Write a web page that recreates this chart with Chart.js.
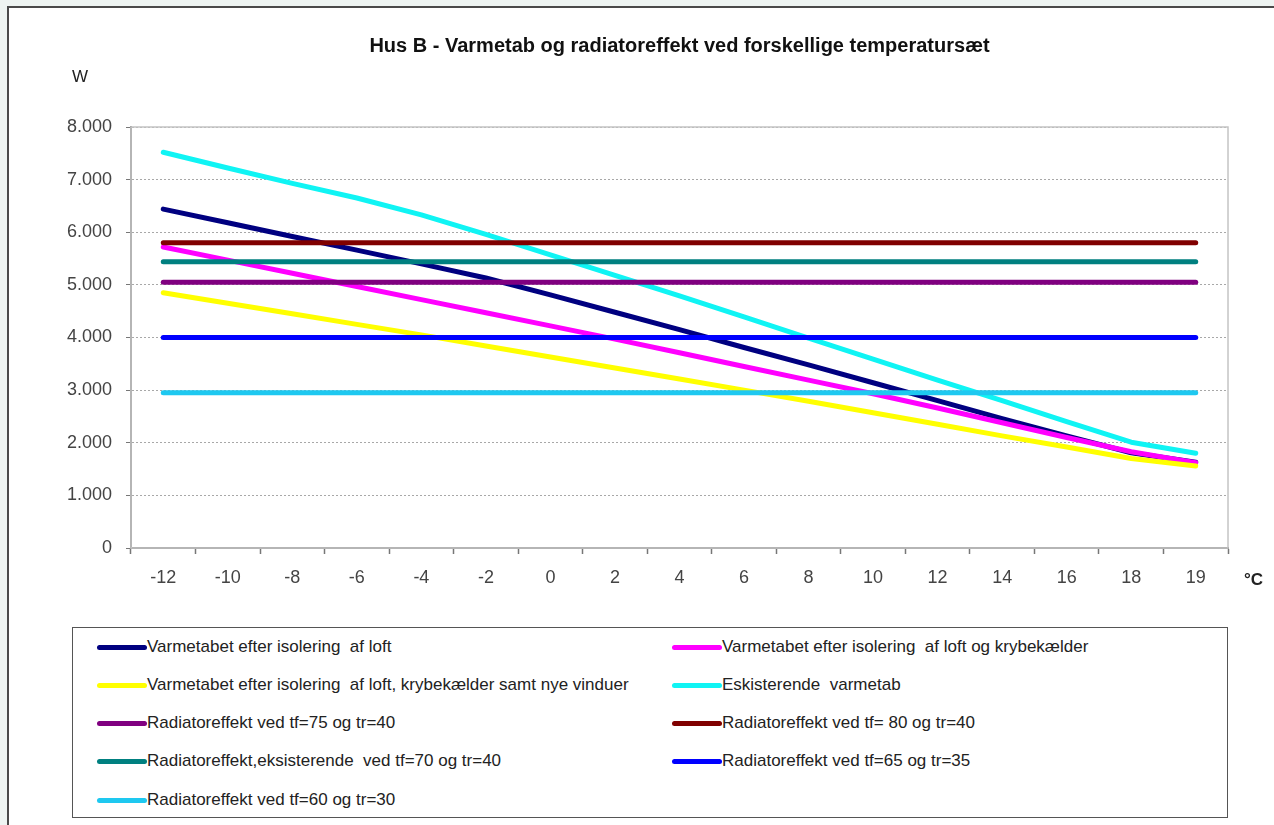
<!DOCTYPE html>
<html>
<head>
<meta charset="utf-8">
<script src="https://cdn.jsdelivr.net/npm/chart.js@4.4.1/dist/chart.umd.min.js"></script>
<style>
  html, body { margin: 0; padding: 0; width: 1274px; height: 825px; overflow: hidden; background: #eef4f2; font-family: "Liberation Sans", Arial, sans-serif; }
  #frame { position: absolute; left: 7px; top: 6px; width: 1300px; height: 900px; background: #fff; border: 2px solid #4a4a4a; }
  #chart { position: absolute; left: 0; top: 0; }
  #title { position: absolute; left: 131px; top: 33px; width: 1097px; text-align: center; font-size: 20px; line-height: 24px; font-weight: bold; color: #111; }
  #unitW { position: absolute; left: 72px; top: 67px; font-size: 17px; line-height: 20px; color: #222; }
  #unitC { position: absolute; left: 1244px; top: 570px; font-size: 17px; line-height: 20px; font-weight: bold; color: #222; }
  #legend { position: absolute; left: 72px; top: 627px; width: 1156px; height: 191px; box-sizing: border-box; border: 1.5px solid #555; background: #fff; }
  .item { position: absolute; height: 20px; display: flex; align-items: center; font-size: 17px; color: #222; white-space: pre; }
  .swatch { width: 50px; height: 5px; border-radius: 3px; }
</style>
</head>
<body>
<div id="frame"></div>
<canvas id="chart" width="1274" height="825"></canvas>
<div id="title">Hus B - Varmetab og radiatoreffekt ved forskellige temperatursæt</div>
<div id="unitW">W</div>
<div id="unitC">°C</div>
<div id="legend"></div>
<script>
// udetemperatur (kategorier)
var temps = ['-12', '-10', '-8', '-6', '-4', '-2', '0', '2', '4', '6', '8', '10', '12', '14', '16', '18', '19'];

// varmetab (W)
var efterLoft = [6440, 6180, 5920, 5660, 5400, 5130, 4810, 4480, 4150, 3810, 3480, 3140, 2800, 2460, 2130, 1810, 1630];
var efterLoftKryb = [5720, 5470, 5220, 4970, 4720, 4470, 4220, 3970, 3710, 3450, 3190, 2930, 2660, 2380, 2100, 1830, 1620];
var efterLoftKrybVinduer = [4850, 4650, 4450, 4250, 4050, 3840, 3630, 3420, 3210, 3000, 2790, 2570, 2350, 2130, 1920, 1700, 1560];
var eksisterende = [7520, 7220, 6930, 6650, 6330, 5960, 5570, 5180, 4790, 4390, 3990, 3590, 3190, 2800, 2400, 2010, 1800];

// radiatoreffekt (W) - konstant
var rad75_40 = 5050;
var rad80_40 = 5800;
var radEks70_40 = 5440;
var rad65_35 = 4000;
var rad60_30 = 2950;

var yTicks = [0, 1000, 2000, 3000, 4000, 5000, 6000, 7000, 8000];

function flat(v) {
  return temps.map(function() { return v; });
}

var series = [
  { label: 'Varmetabet efter isolering  af loft', data: efterLoft, color: '#000080' },
  { label: 'Varmetabet efter isolering  af loft og krybekælder', data: efterLoftKryb, color: '#ff00ff' },
  { label: 'Varmetabet efter isolering  af loft, krybekælder samt nye vinduer', data: efterLoftKrybVinduer, color: '#ffff00' },
  { label: 'Eskisterende  varmetab', data: eksisterende, color: '#10f4f4' },
  { label: 'Radiatoreffekt ved tf=75 og tr=40', data: flat(rad75_40), color: '#800080' },
  { label: 'Radiatoreffekt ved tf= 80 og tr=40', data: flat(rad80_40), color: '#800000' },
  { label: 'Radiatoreffekt,eksisterende  ved tf=70 og tr=40', data: flat(radEks70_40), color: '#008080' },
  { label: 'Radiatoreffekt ved tf=65 og tr=35', data: flat(rad65_35), color: '#0000ff' },
  { label: 'Radiatoreffekt ved tf=60 og tr=30', data: flat(rad60_30), color: '#1ec8f0' }
];

function fmt(v) {
  return String(v).replace(/\B(?=(\d{3})+(?!\d))/g, '.');
}

// lys grå ramme om plotområdet
var plotBorder = {
  id: 'plotBorder',
  beforeDatasetsDraw: function(chart) {
    var a = chart.chartArea, ctx = chart.ctx;
    ctx.save();
    ctx.strokeStyle = '#c4c4c4';
    ctx.lineWidth = 1.5;
    ctx.strokeRect(a.left, a.top, a.right - a.left, a.bottom - a.top);
    ctx.restore();
  }
};

var ctx = document.getElementById('chart').getContext('2d');
var chart = new Chart(ctx, {
  type: 'line',
  data: {
    labels: temps,
    datasets: series.map(function(s, i) {
      return {
        label: s.label,
        data: s.data,
        borderColor: s.color,
        backgroundColor: s.color,
        borderWidth: 5,
        borderCapStyle: 'round',
        borderJoinStyle: 'round',
        pointRadius: 0,
        tension: 0,
        fill: false,
        order: series.length - i
      };
    })
  },
  options: {
    responsive: false,
    animation: false,
    layout: { padding: { left: 0, right: 46, top: 127, bottom: 0 } },
    plugins: {
      legend: { display: false },
      tooltip: { enabled: false }
    },
    scales: {
      x: {
        offset: true,
        afterFit: function(scale) { scale.height = 277; },
        grid: { offset: true, drawOnChartArea: false, drawTicks: true, tickLength: 6, tickColor: '#777', tickWidth: 1.5 },
        border: { display: true, color: '#888', width: 2 },
        ticks: { autoSkip: false, maxRotation: 0, padding: 13, color: '#444', font: { family: 'Liberation Sans', size: 18 } }
      },
      y: {
        min: 0,
        max: 8000,
        afterFit: function(scale) { scale.width = 131; },
        afterBuildTicks: function(scale) { scale.ticks = yTicks.map(function(v) { return { value: v }; }); },
        grid: { color: '#a8a8a8', lineWidth: 1, tickLength: 5, tickColor: '#777' },
        border: { display: true, color: '#888', width: 2, dash: [2, 2] },
        ticks: { padding: 14, color: '#444', font: { family: 'Liberation Sans', size: 18 }, callback: function(v) { return fmt(v); } }
      }
    }
  },
  plugins: [plotBorder]
});

// legende i to kolonner
var legend = document.getElementById('legend');
var rowY = [9, 47, 85, 123, 162];
chart.data.datasets.forEach(function(ds, i) {
  var item = document.createElement('div');
  item.className = 'item';
  item.style.left = (i % 2 === 0 ? 24 : 599) + 'px';
  item.style.top = rowY[Math.floor(i / 2)] + 'px';
  var sw = document.createElement('span');
  sw.className = 'swatch';
  sw.style.background = ds.borderColor;
  var tx = document.createElement('span');
  tx.textContent = ds.label;
  item.appendChild(sw);
  item.appendChild(tx);
  legend.appendChild(item);
});
</script>
</body>
</html>
